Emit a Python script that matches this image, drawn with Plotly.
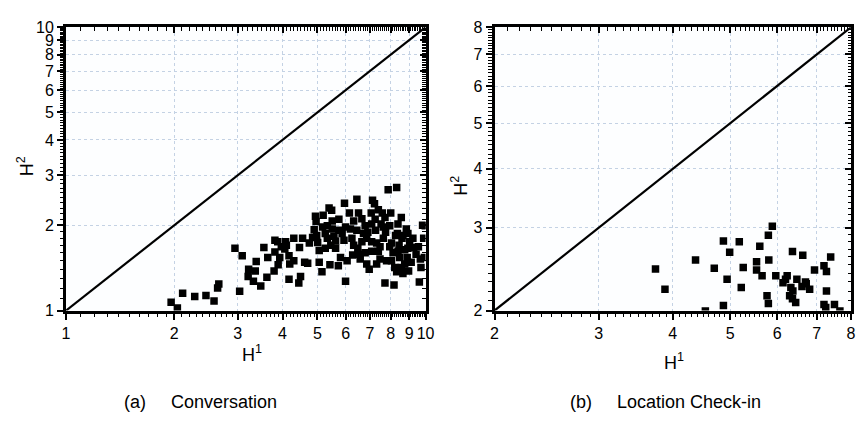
import math
import plotly.graph_objects as go

# ---- Data: (a) Conversation ----
conv_h1 = [1.96, 2.04, 2.11, 2.28, 2.45, 2.58, 2.64, 2.66, 3.04, 2.95, 3.09, 3.22, 3.21, 3.32, 3.38,
           3.36, 3.48, 3.55, 3.64, 3.62, 3.79, 3.81, 3.89, 3.88, 3.97, 4.08, 4.06, 4.17, 4.19, 4.17,
           4.30, 4.30, 4.44, 4.49, 4.46, 4.55, 4.61, 4.70, 4.75, 4.85, 4.90, 4.96, 4.94, 5.01, 5.06,
           5.06, 5.15, 5.19, 5.26, 5.33, 5.39, 5.48, 5.42, 5.50, 5.56, 5.62, 5.72, 5.80, 5.86, 5.93,
           5.95, 5.99, 6.14, 6.18, 6.24, 6.27, 6.31, 6.44, 6.51, 6.48, 6.58, 6.65, 6.72, 6.79, 6.86,
           6.86, 6.97, 7.06, 7.12, 7.21, 7.24, 7.26, 7.31, 7.39, 7.47, 7.52, 7.58, 7.63, 7.71, 7.74,
           7.79, 7.87, 7.95, 8.00, 8.04, 8.12, 8.17, 8.21, 8.31, 8.35, 8.38, 8.44, 8.47, 8.56, 8.60,
           8.65, 8.75, 8.84, 8.89, 8.97, 9.03, 9.12, 9.22, 9.27, 9.55, 9.61, 9.67, 9.81, 9.88, 9.92,
           8.25, 7.95, 7.47, 7.08, 6.79, 6.51, 6.44, 5.99, 5.74, 5.50, 5.33, 5.17, 6.05, 5.45, 4.98,
           4.10, 3.81, 3.93, 8.65, 8.93, 8.38, 7.63, 7.71, 7.08, 6.91, 9.41, 9.71, 8.75, 8.31, 8.04,
           7.31, 9.98, 7.39, 8.56, 8.93, 7.08, 6.65, 6.31, 5.74, 5.62, 5.26]
conv_h2 = [1.07, 1.02, 1.15, 1.12, 1.13, 1.08, 1.20, 1.24, 1.17, 1.66, 1.56, 1.40, 1.32, 1.27, 1.49,
           1.38, 1.22, 1.67, 1.54, 1.31, 1.38, 1.61, 1.45, 1.75, 1.68, 1.75, 1.65, 1.56, 1.46, 1.29,
           1.80, 1.50, 1.25, 1.32, 1.67, 1.80, 1.48, 1.47, 1.73, 1.81, 1.93, 2.06, 2.15, 1.74, 1.63,
           1.48, 1.37, 2.17, 1.87, 1.80, 2.30, 2.26, 1.45, 1.94, 1.83, 1.76, 1.44, 1.54, 1.87, 1.77,
           2.39, 1.27, 2.21, 1.94, 1.80, 1.57, 1.70, 2.47, 2.21, 1.66, 1.52, 2.11, 1.87, 1.99, 1.80,
           1.46, 1.40, 2.21, 2.45, 2.38, 2.10, 1.92, 1.73, 1.62, 1.52, 2.02, 2.21, 1.80, 1.25, 1.89,
           1.50, 2.67, 1.99, 2.21, 1.73, 1.60, 1.23, 1.42, 2.72, 1.87, 2.02, 1.70, 1.54, 1.42, 1.80,
           1.35, 1.64, 1.94, 1.54, 1.38, 1.75, 1.48, 1.80, 1.67, 1.68, 1.26, 1.52, 2.00, 1.80, 1.54,
           1.84, 1.68, 1.68, 1.62, 1.60, 1.58, 1.92, 1.97, 1.92, 2.07, 1.99, 1.97, 1.50, 1.70, 1.84,
           1.70, 1.77, 1.54, 1.84, 1.87, 1.62, 1.97, 2.13, 2.02, 1.89, 1.58, 1.42, 1.46, 1.37, 1.50,
           1.46, 1.99, 2.27, 2.13, 1.66, 1.75, 1.75, 2.07, 2.10, 1.66, 1.66]

# ---- Data: (b) Location Check-in ----
loc_h1 = [3.74, 3.88, 4.37, 4.70, 4.87, 4.99, 4.94, 4.87, 4.54, 5.18, 5.26, 5.22, 5.61, 5.54, 5.54,
          5.66, 5.80, 5.89, 5.81, 5.77, 5.80, 5.97, 6.37, 6.24, 6.14, 6.20, 6.33, 6.38, 6.30, 6.37,
          6.45, 6.48, 6.63, 6.61, 6.70, 6.81, 6.72, 6.94, 7.20, 7.27, 7.39, 7.27, 7.20, 7.25, 7.50,
          7.66]
loc_h2 = [2.45, 2.22, 2.56, 2.46, 2.81, 2.66, 2.33, 2.05, 1.995, 2.80, 2.47, 2.24, 2.74, 2.54, 2.44,
          2.37, 2.89, 3.02, 2.56, 2.15, 2.07, 2.37, 2.67, 2.37, 2.29, 2.33, 2.24, 2.20, 2.15, 2.12,
          2.08, 2.33, 2.62, 2.25, 2.30, 2.22, 2.28, 2.44, 2.49, 2.42, 2.60, 2.20, 2.06, 2.03, 2.06,
          1.995]

conv_ticks = [1, 2, 3, 4, 5, 6, 7, 8, 9, 10]
loc_ticks = [2, 3, 4, 5, 6, 7, 8]
conv_range = [1, 10]
loc_range = [2, 8]

FONT = "Liberation Sans, Arial, sans-serif"
W, H = 865, 430


def minor_vals(lo, hi):
    vals = []
    k = int(round(lo * 10))
    while k < int(round(hi * 10)):
        if k % 10 != 0:
            vals.append(k / 10)
        k += 1
    return vals


def lrange(r):
    return [math.log10(r[0]), math.log10(r[1])]


def key(ax):
    return ("xaxis" if ax[0] == "x" else "yaxis") + ax[1:]


fig = go.Figure()
layout = {}

ydom = [1 - 315 / H, 1 - 20 / H]
panels = [
    dict(x="x", y="y", xo="x3", yo="y3", xdom=[63 / W, 428 / W], rng=conv_range,
         ticks=conv_ticks, h1=conv_h1, h2=conv_h2),
    dict(x="x2", y="y2", xo="x4", yo="y4", xdom=[498 / W, 860 / W], rng=loc_range,
         ticks=loc_ticks, h1=loc_h1, h2=loc_h2),
]

for p in panels:
    mv = minor_vals(*p["rng"])
    for ax, other, dom in [(p["x"], p["y"], p["xdom"]), (p["y"], p["x"], ydom)]:
        layout[key(ax)] = dict(
            type="log", range=lrange(p["rng"]), domain=dom, anchor=other,
            tickmode="array", tickvals=p["ticks"], ticktext=[str(t) for t in p["ticks"]],
            ticks="outside", ticklen=6, tickwidth=1.6, tickcolor="black",
            showline=True, linecolor="black", linewidth=3, mirror=True,
            zeroline=False, tickfont=dict(family=FONT, size=16, color="black"),
            showgrid=True, gridcolor="#c4d2e4", griddash="dot", gridwidth=1,
            minor=dict(tickmode="array", tickvals=mv, ticks="outside", ticklen=3.5,
                       tickwidth=1.3, tickcolor="black", showgrid=False))
    # mirrored tick marks pointing inward on the top and right edges
    for ax, base, other, side in [(p["xo"], p["x"], p["y"], "top"),
                                  (p["yo"], p["y"], p["x"], "right")]:
        layout[key(ax)] = dict(
            type="log", range=lrange(p["rng"]), overlaying=base, side=side, anchor=other,
            tickmode="array", tickvals=p["ticks"], showticklabels=False,
            ticks="inside", ticklen=6, tickwidth=1.6, tickcolor="black",
            showline=False, showgrid=False, zeroline=False,
            minor=dict(tickmode="array", tickvals=mv, ticks="inside", ticklen=3.5,
                       tickwidth=1.3, tickcolor="black", showgrid=False))

    fig.add_trace(go.Scatter(x=p["rng"], y=p["rng"], mode="lines",
                             line=dict(color="black", width=2.2),
                             xaxis=p["x"], yaxis=p["y"], hoverinfo="skip"))
    fig.add_trace(go.Scatter(x=p["h1"], y=p["h2"], mode="markers",
                             marker=dict(symbol="square", size=7.5, color="black"),
                             xaxis=p["x"], yaxis=p["y"]))
    mid = math.sqrt(p["rng"][0] * p["rng"][1])
    for xa, ya in [(p["xo"], p["y"]), (p["x"], p["yo"])]:
        fig.add_trace(go.Scatter(x=[mid], y=[mid], mode="markers", marker=dict(opacity=0),
                                 xaxis=xa, yaxis=ya, hoverinfo="skip"))

fig.update_layout(width=W, height=H, margin=dict(l=0, r=0, t=0, b=0),
                  paper_bgcolor="white", plot_bgcolor="#fdfeff", showlegend=False,
                  **layout)

ann_font = dict(family=FONT, size=18, color="black")
cap_font = dict(family=FONT, size=18, color="black")
anns = [
    dict(text="H<sup>1</sup>", x=252 / W, y=1 - 360 / H, font=ann_font),
    dict(text="H<sup>1</sup>", x=680 / W, y=1 - 368 / H, font=ann_font),
    dict(text="H<sup>2</sup>", x=22 / W, y=1 - 165 / H, font=ann_font, textangle=-90),
    dict(text="H<sup>2</sup>", x=463 / W, y=1 - 185 / H, font=ann_font, textangle=-90),
    dict(text="(a)", x=133 / W, y=1 - 410 / H, font=cap_font),
    dict(text="Conversation", x=168 / W, y=1 - 410 / H, font=cap_font, xanchor="left"),
    dict(text="(b)", x=586 / W, y=1 - 410 / H, font=cap_font),
    dict(text="Location Check-in", x=620 / W, y=1 - 410 / H, font=cap_font, xanchor="left"),
]
for a in anns:
    a.setdefault("xanchor", "center")
    a.update(xref="paper", yref="paper", showarrow=False, yanchor="middle")
fig.update_layout(annotations=anns)

fig.write_html("out.html")
